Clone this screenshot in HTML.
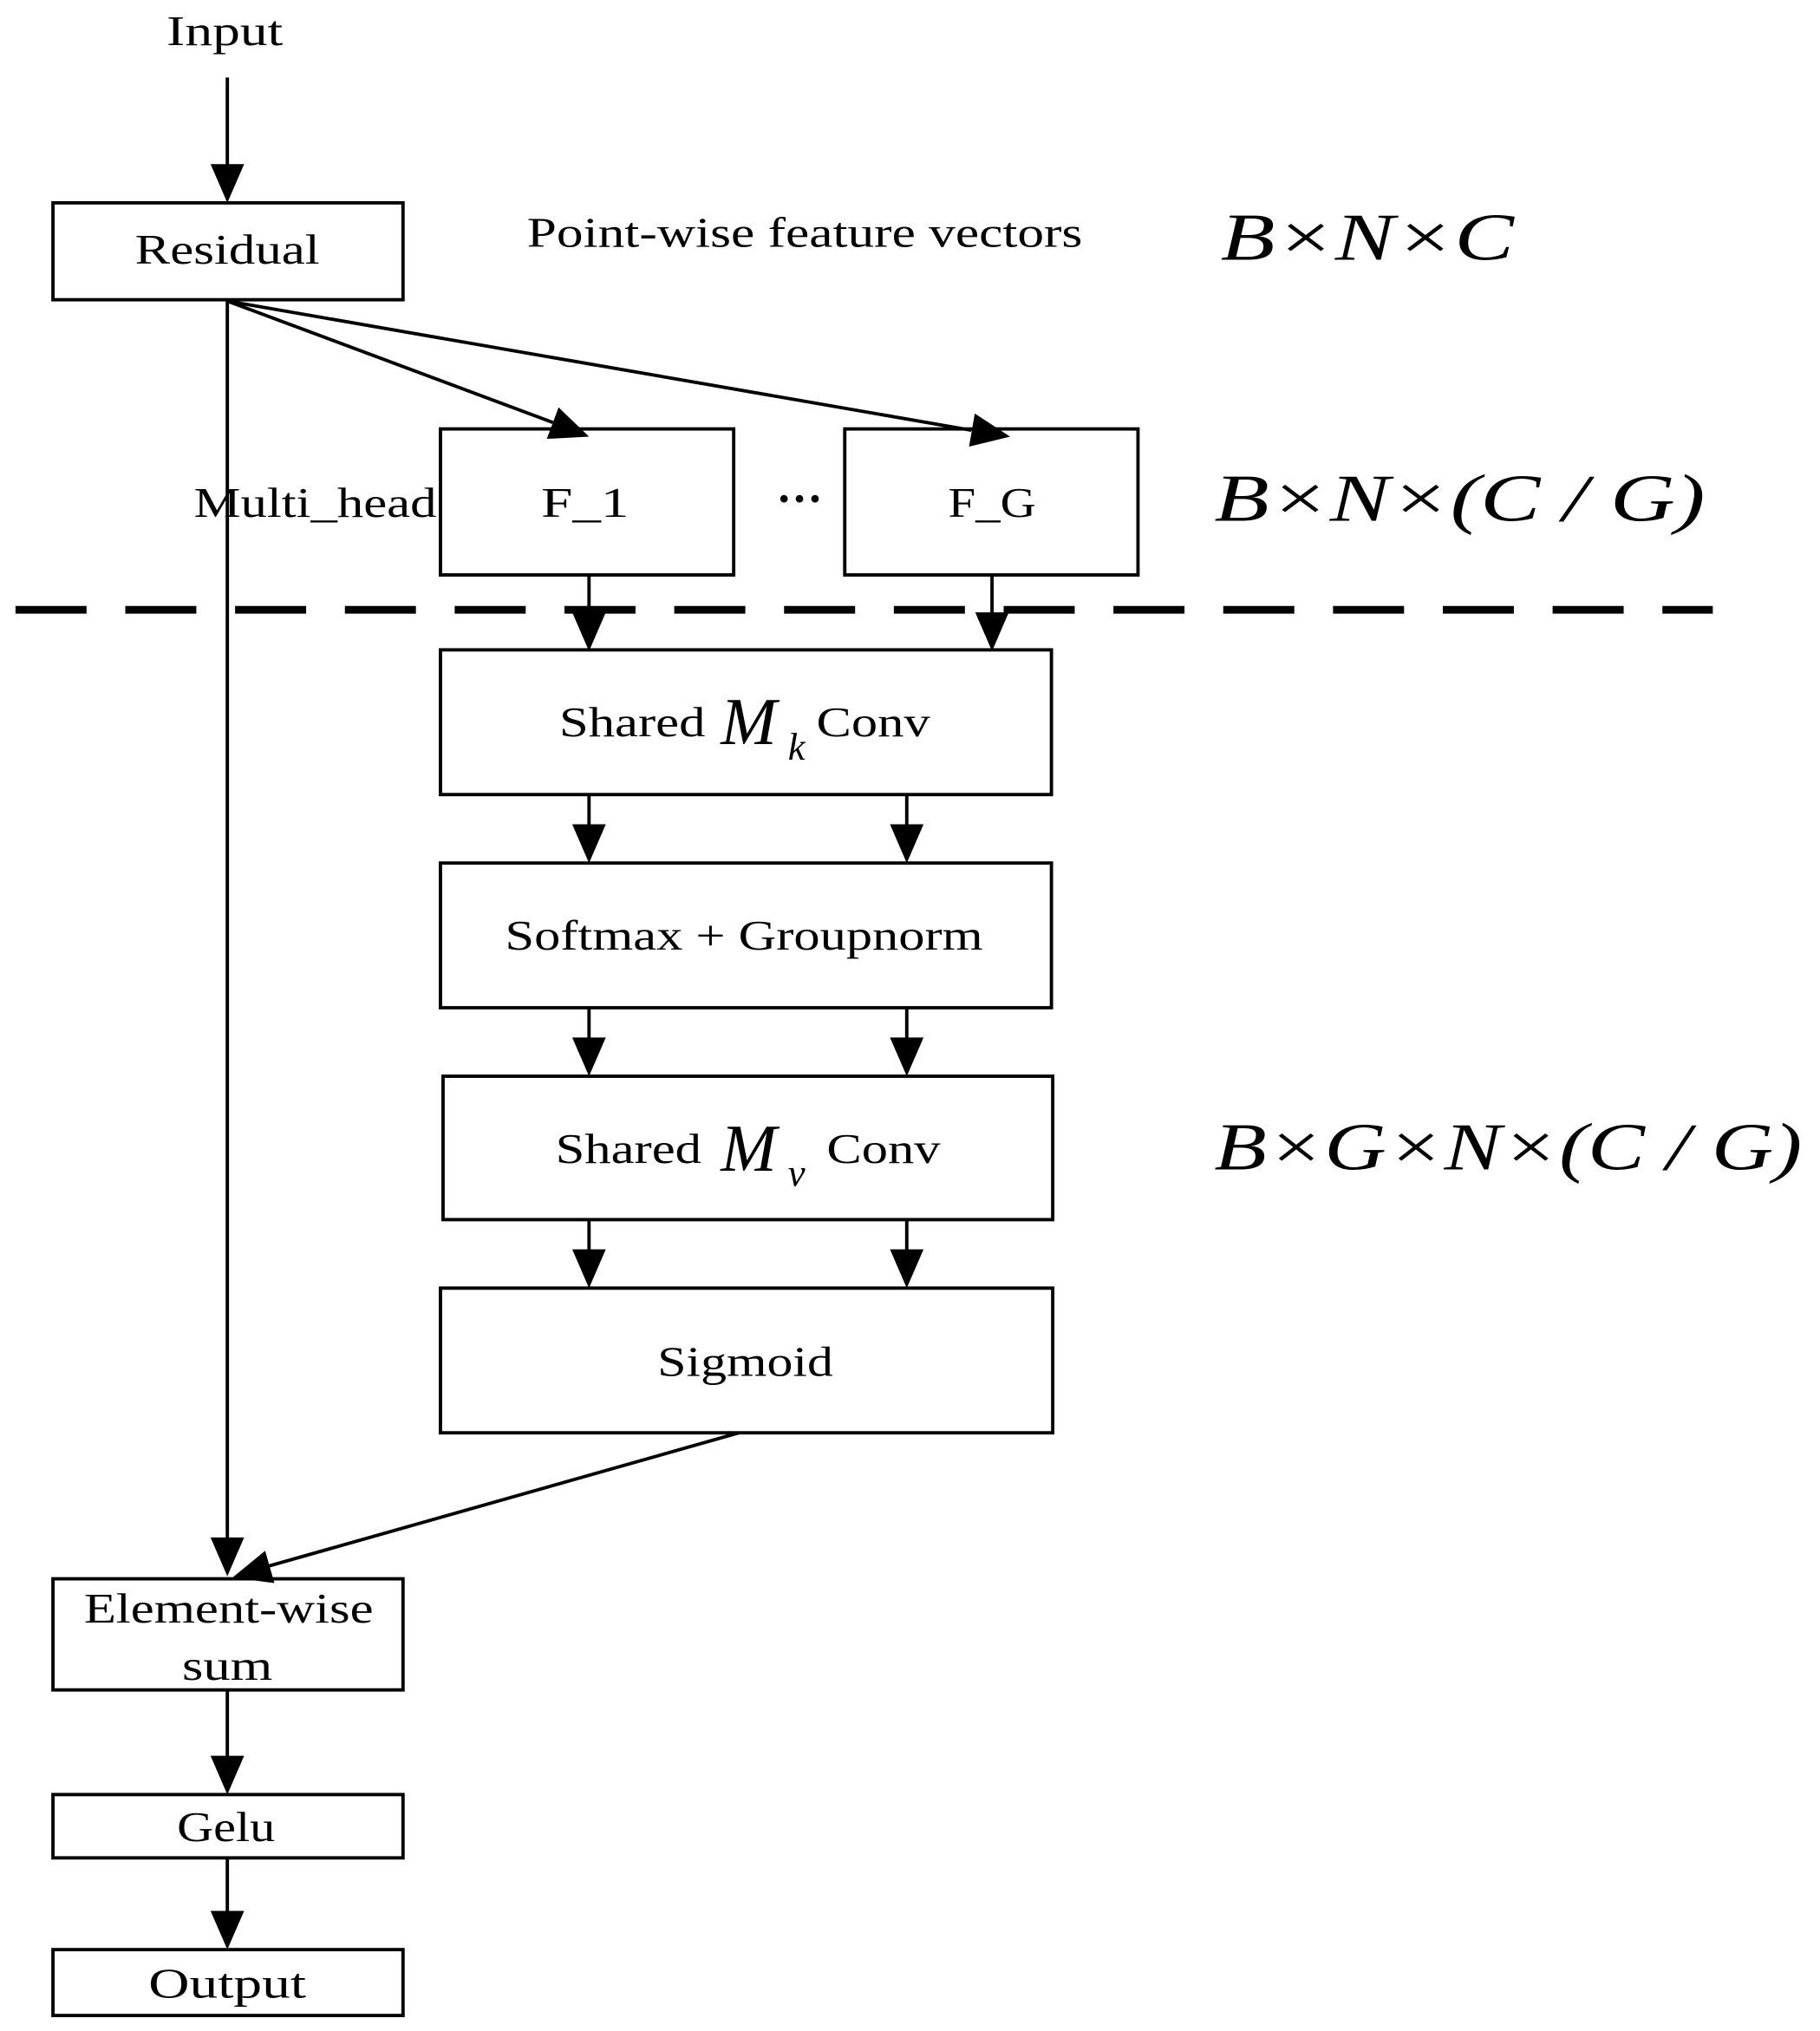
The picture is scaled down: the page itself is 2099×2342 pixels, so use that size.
<!DOCTYPE html>
<html><head><meta charset="utf-8"><style>
html,body{margin:0;padding:0;background:#fff;}
svg{display:block;}
text{font-family:"Liberation Serif",serif;fill:#000;}
</style></head><body>
<svg width="2099" height="2342" viewBox="0 0 1409 1572" preserveAspectRatio="none" xmlns="http://www.w3.org/2000/svg">
<g fill="none" stroke="#000" stroke-width="2.6">
<rect x="41" y="157" width="271" height="75"/>
<rect x="341" y="332" width="227" height="113"/>
<rect x="654" y="332" width="227" height="113"/>
<rect x="341" y="503" width="473" height="112"/>
<rect x="341" y="668" width="473" height="112"/>
<rect x="343" y="833" width="472" height="111"/>
<rect x="341" y="997" width="474" height="112"/>
<rect x="41" y="1222" width="271" height="86"/>
<rect x="41" y="1389" width="271" height="49"/>
<rect x="41" y="1509" width="271" height="51"/>
<line x1="176" y1="60" x2="176" y2="130"/>
<line x1="176" y1="233" x2="176" y2="1192"/>
<line x1="176" y1="233" x2="428" y2="327"/>
<line x1="176" y1="233" x2="752" y2="333"/>
<line x1="456" y1="445" x2="456" y2="476"/>
<line x1="768" y1="445" x2="768" y2="476"/>
<line x1="456" y1="615" x2="456" y2="641"/>
<line x1="702" y1="615" x2="702" y2="641"/>
<line x1="456" y1="780" x2="456" y2="806"/>
<line x1="702" y1="780" x2="702" y2="806"/>
<line x1="456" y1="944" x2="456" y2="970"/>
<line x1="702" y1="944" x2="702" y2="970"/>
<line x1="572" y1="1109" x2="205" y2="1213"/>
<line x1="176" y1="1308" x2="176" y2="1362"/>
<line x1="176" y1="1438" x2="176" y2="1482"/>
<line x1="12" y1="472" x2="1326" y2="472" stroke-width="6" stroke-dasharray="55,30"/>
</g>
<g fill="#000">
<polygon points="163,127 189,127 176,157"/>
<polygon points="163,1190 189,1190 176,1220"/>
<polygon points="443,474 469,474 456,504"/>
<polygon points="755,474 781,474 768,504"/>
<polygon points="443,638 469,638 456,668"/>
<polygon points="689,638 715,638 702,668"/>
<polygon points="443,803 469,803 456,833"/>
<polygon points="689,803 715,803 702,833"/>
<polygon points="443,967 469,967 456,997"/>
<polygon points="689,967 715,967 702,997"/>
<polygon points="163,1359 189,1359 176,1389"/>
<polygon points="163,1479 189,1479 176,1509"/>
<polygon points="-30,-13 0,0 -30,13" transform="translate(456,338) rotate(20.5)"/>
<polygon points="-30,-13 0,0 -30,13" transform="translate(782,338) rotate(9.85)"/>
<polygon points="-30,-13 0,0 -30,13" transform="translate(180,1221) rotate(164.1)"/>
</g>
<g font-size="33" text-anchor="middle" lengthAdjust="spacingAndGlyphs">
<text x="174" y="35" textLength="90" lengthAdjust="spacingAndGlyphs">Input</text>
<text x="176" y="204" textLength="143" lengthAdjust="spacingAndGlyphs">Residual</text>
<text x="623" y="191" textLength="430" lengthAdjust="spacingAndGlyphs">Point-wise feature vectors</text>
<text x="244" y="400" textLength="188" lengthAdjust="spacingAndGlyphs">Multi_head</text>
<text x="453" y="400" textLength="68" lengthAdjust="spacingAndGlyphs">F_1</text>
<text x="768" y="400" textLength="68" lengthAdjust="spacingAndGlyphs">F_G</text>
<text x="619" y="398" font-size="36" font-weight="bold">···</text>
<text x="576" y="735" textLength="370" lengthAdjust="spacingAndGlyphs">Softmax + Groupnorm</text>
<text x="577" y="1065" textLength="136" lengthAdjust="spacingAndGlyphs">Sigmoid</text>
<text x="177" y="1256" textLength="224" lengthAdjust="spacingAndGlyphs">Element-wise</text>
<text x="176" y="1300" textLength="70" lengthAdjust="spacingAndGlyphs">sum</text>
<text x="175" y="1425" textLength="76" lengthAdjust="spacingAndGlyphs">Gelu</text>
<text x="176" y="1546" textLength="122" lengthAdjust="spacingAndGlyphs">Output</text>
</g>
<g font-size="33">
<text x="433" y="570" textLength="113" lengthAdjust="spacingAndGlyphs">Shared</text>
<text x="558" y="576" font-size="52" font-style="italic">M</text>
<text x="610" y="588" font-style="italic" font-size="30">k</text>
<text x="632" y="570" textLength="88" lengthAdjust="spacingAndGlyphs">Conv</text>
<text x="430" y="900" textLength="113" lengthAdjust="spacingAndGlyphs">Shared</text>
<text x="558" y="906" font-size="52" font-style="italic">M</text>
<text x="610" y="918" font-style="italic" font-size="30">v</text>
<text x="640" y="900" textLength="88" lengthAdjust="spacingAndGlyphs">Conv</text>
</g>
<g font-size="52" font-style="italic">
<text x="945" y="201" textLength="227" lengthAdjust="spacingAndGlyphs">B×N×C</text>
<text x="940" y="403" textLength="380" lengthAdjust="spacingAndGlyphs">B×N×(C / G)</text>
<text x="940" y="905" textLength="455" lengthAdjust="spacingAndGlyphs">B×G×N×(C / G)</text>
</g>
</svg>
</body></html>
